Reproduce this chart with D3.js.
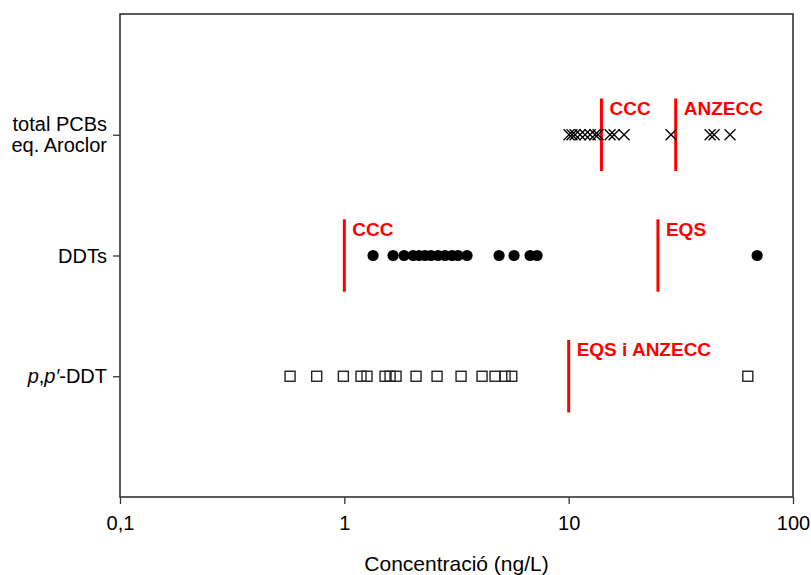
<!DOCTYPE html>
<html>
<head>
<meta charset="utf-8">
<script src="https://cdn.jsdelivr.net/npm/d3@7"></script>
<style>
  html, body { margin: 0; padding: 0; background: #fff; }
  svg text { font-family: Arial, "Liberation Sans", sans-serif; }
</style>
</head>
<body>
<svg id="chart" width="811" height="575"></svg>
<script>
// Concentrations (ng/L) per compound group
const ppDDT = [0.573, 0.753, 0.99, 1.187, 1.262, 1.519, 1.599, 1.70, 2.088, 2.59, 3.314, 4.111, 4.697, 5.205, 5.577, 62.9];
const ddts = [1.343, 1.649, 1.846, 2.025, 2.153, 2.29, 2.435, 2.617, 2.812, 3.021, 3.212, 3.524, 4.895, 5.709, 6.73, 7.228, 69.2];
const pcbs = [10.04, 10.35, 10.68, 11.24, 11.83, 12.46, 13.11, 13.52, 15.3, 15.94, 17.66, 28.6, 42.7, 44.5, 52.4];

// Quality-standard thresholds (ng/L) for each group
const ppDDTLimits = [{ label: "EQS i ANZECC", value: 10 }];
const ddtsLimits = [{ label: "CCC", value: 1 }, { label: "EQS", value: 25 }];
const pcbsLimits = [{ label: "CCC", value: 14 }, { label: "ANZECC", value: 30 }];

const xTicks = [0.1, 1, 10, 100];
const xTickLabels = ["0,1", "1", "10", "100"];
const xTitle = "Concentració (ng/L)";

// Rows from bottom to top
const rows = [
  { key: "ppddt", pos: 1, values: ppDDT, limits: ppDDTLimits, marker: "square" },
  { key: "ddts", pos: 2, values: ddts, limits: ddtsLimits, marker: "circle" },
  { key: "pcbs", pos: 3, values: pcbs, limits: pcbsLimits, marker: "cross" }
];

const svg = d3.select("#chart");
const plotL = 120, plotR = 793, plotT = 14, plotB = 497;
const fontSize = 20;

const x = d3.scaleLog().domain([0.1, 100]).range([plotL, plotR]);
const y = d3.scaleLinear().domain([0, 4]).range([plotB, plotT]);

const axisColor = "#333";

// Bottom axis
const xAxis = svg.append("g")
  .attr("transform", `translate(0,${plotB})`)
  .call(d3.axisBottom(x).tickValues(xTicks)
    .tickFormat((d, i) => xTickLabels[i]).tickSize(7).tickSizeOuter(0));
xAxis.select(".domain").remove();
xAxis.selectAll(".tick line").attr("stroke", axisColor).attr("stroke-width", 1.3);
xAxis.selectAll(".tick text")
  .attr("y", 19).attr("dy", "0.71em")
  .attr("font-size", fontSize).attr("fill", "#000")
  .style("font-family", "Arial, 'Liberation Sans', sans-serif");

// Left axis
const yAxis = svg.append("g")
  .attr("transform", `translate(${plotL},0)`)
  .call(d3.axisLeft(y).tickValues(rows.map(r => r.pos)).tickFormat(() => "").tickSize(7).tickSizeOuter(0));
yAxis.select(".domain").remove();
yAxis.selectAll(".tick line").attr("stroke", axisColor).attr("stroke-width", 1.3);

// Frame
svg.append("rect")
  .attr("x", plotL).attr("y", plotT)
  .attr("width", plotR - plotL).attr("height", plotB - plotT)
  .attr("fill", "none").attr("stroke", axisColor).attr("stroke-width", 1.6);

// Row labels
const labelX = plotL - 13;
const labelG = svg.append("g").attr("font-size", fontSize).attr("text-anchor", "end").attr("fill", "#000");

const pcbLabel = labelG.append("text").attr("x", labelX).attr("y", y(3));
pcbLabel.append("tspan").attr("x", labelX).attr("dy", "-0.2em").text("total PCBs");
pcbLabel.append("tspan").attr("x", labelX).attr("dy", "1.05em").text("eq. Aroclor");

labelG.append("text").attr("x", labelX).attr("y", y(2)).attr("dy", "0.35em").text("DDTs");

const ppLabel = labelG.append("text").attr("x", labelX).attr("y", y(1)).attr("dy", "0.35em");
ppLabel.append("tspan").attr("font-style", "italic").text("p");
ppLabel.append("tspan").text(",");
ppLabel.append("tspan").attr("font-style", "italic").text("p′");
ppLabel.append("tspan").text("-DDT");

// Threshold lines with labels
const halfLen = 0.3;
rows.forEach(r => {
  const g = svg.append("g").attr("class", "limits-" + r.key);
  r.limits.forEach(l => {
    g.append("line")
      .attr("x1", x(l.value)).attr("x2", x(l.value))
      .attr("y1", y(r.pos + halfLen)).attr("y2", y(r.pos - halfLen))
      .attr("stroke", "#ff0000").attr("stroke-width", 3);
    g.append("text")
      .attr("x", x(l.value) + 8)
      .attr("y", y(r.pos) - 20)
      .attr("fill", "#ff0000").attr("font-size", 19).attr("font-weight", "bold")
      .text(l.label);
  });
});

// Data markers
rows.forEach(r => {
  const g = svg.append("g").attr("class", "points-" + r.key);
  const cy = y(r.pos);
  if (r.marker === "circle") {
    g.selectAll("circle").data(r.values).join("circle")
      .attr("cx", d => x(d)).attr("cy", cy).attr("r", 5.6)
      .attr("fill", "#000");
  } else if (r.marker === "square") {
    const s = 10;
    g.selectAll("rect").data(r.values).join("rect")
      .attr("x", d => x(d) - s / 2).attr("y", cy - s / 2)
      .attr("width", s).attr("height", s)
      .attr("fill", "none").attr("stroke", "#222").attr("stroke-width", 1.4);
  } else {
    const h = 5.5;
    g.selectAll("path").data(r.values).join("path")
      .attr("d", d => {
        const cx = x(d);
        return `M${cx - h},${cy - h}L${cx + h},${cy + h}M${cx - h},${cy + h}L${cx + h},${cy - h}`;
      })
      .attr("fill", "none").attr("stroke", "#000").attr("stroke-width", 1.3);
  }
});

// Axis title
svg.append("text")
  .attr("x", (plotL + plotR) / 2).attr("y", 571)
  .attr("text-anchor", "middle").attr("font-size", 21).attr("fill", "#000")
  .text(xTitle);
</script>
</body>
</html>
